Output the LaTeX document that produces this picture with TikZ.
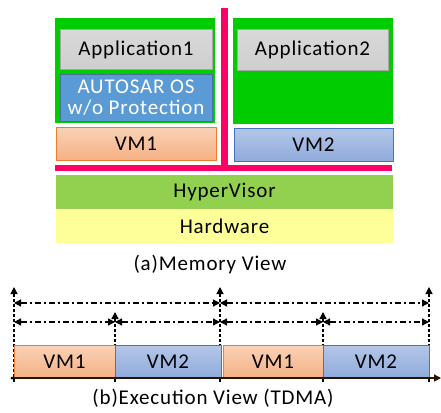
\documentclass[tikz,border=0pt]{standalone}
\usepackage{fontspec}
\setmainfont{Carlito}[LetterSpace=4]
\usetikzlibrary{arrows.meta}
\definecolor{vmgreen}{HTML}{00CC00}
\definecolor{pinkbar}{HTML}{FF0066}
\definecolor{hvgreen}{HTML}{92D050}
\definecolor{hwyellow}{HTML}{FFFF99}
\definecolor{osblue}{HTML}{5B9BD5}
\definecolor{osline}{HTML}{41719C}
\definecolor{orline}{HTML}{ED7D31}
\definecolor{bline}{HTML}{4472C4}
\begin{document}
\begin{tikzpicture}[x=1pt, y=-1pt,
		txt/.style = {font=\fontsize{21}{20}\selectfont, inner sep=0pt, align=center},
		box/.style = {txt, minimum width=#1},
		app/.style = {box=#1, draw=gray!70, line width=1pt, top color=gray!30, bottom color=gray!38, minimum height=40},
		vmone/.style = {box=#1, draw=orline, line width=1pt, top color=orange!10!orline!35, bottom color=orline!60, minimum height=33},
		vmtwo/.style = {box=#1, draw=bline, line width=1pt, top color=bline!40, bottom color=bline!60, minimum height=33},
		tick/.style = {-{Triangle[length=7pt,width=7pt]}, line width=1.3pt, dash pattern=on 3pt off 2pt},
		span/.style = {{Triangle[length=7pt,width=7pt]}-{Triangle[length=7pt,width=7pt]}, line width=1.3pt, dash pattern=on 6pt off 3pt on 2pt off 3pt}]
	
	\useasboundingbox (0,0) rectangle (441,412);
	
	% (a) memory view
	\node[fill=vmgreen, minimum width=160, minimum height=105, inner sep=0pt] (G1) at (135,70.5) {};
	\node[fill=vmgreen, minimum width=160, minimum height=106, inner sep=0pt] (G2) at (313,71) {};
	
	\fill[pinkbar] (221,8) rectangle (228,171);
	\fill[pinkbar] (55,165) rectangle (392,171);
	
	\node[app=152] (A1) at (136,49.5) {Application1};
	\node[app=151] (A2) at (312.5,50) {Application2};
	\node[box=152, fill=osblue, draw=osline, line width=1pt, minimum height=47, text=white] (OS) at (136,97.5) {AUTOSAR OS\\[1pt]w/o Protection};
	
	\node[vmone=160] (V1) at (136,144) {VM1};
	\node[vmtwo=159] (V2) at (313.5,145) {VM2};
	
	\node[box=337, fill=hvgreen, minimum height=34] (HV) at (224.5,192) {HyperVisor};
	\node[box=337, fill=hwyellow, minimum height=33] (HW) at (224.5,226.5) {Hardware};
	
	\node[txt] (capa) at (210,265) {(a)Memory View};
	
	% (b) execution view
	\coordinate (b0) at (14,382);  \coordinate (t0) at (14,287);
	\coordinate (b1) at (115,382); \coordinate (t1) at (115,312);
	\coordinate (b2) at (220,382); \coordinate (t2) at (220,287);
	\coordinate (b3) at (323,382); \coordinate (t3) at (323,312);
	\coordinate (b4) at (429,382); \coordinate (t4) at (429,287);
	
	\draw[tick] (b0) -- (t0);
	\draw[tick] (b1) -- (t1);
	\draw[tick] (b2) -- (t2);
	\draw[tick] (b3) -- (t3);
	\draw[tick] (b4) -- (t4);
	
	\node[vmone=101] (T1) at (64.5,361.5) {VM1};
	\node[vmtwo=106] (T2) at (168,361.5) {VM2};
	\node[vmone=100] (T3) at (273,361.5) {VM1};
	\node[vmtwo=106] (T4) at (376,361.5) {VM2};
	
	\coordinate (o) at (12,378);
	\coordinate (end) at (441,378);
	\draw[-{Triangle[length=7pt,width=7pt]}, line width=1.3pt, black!85!orange] (o) -- (end);
	\fill (o) circle (1.5);
	
	\coordinate (p0) at (14,303);  \coordinate (p2) at (220,303);  \coordinate (p4) at (429,303);
	\coordinate (q0) at (14,322);  \coordinate (q1) at (115,322);  \coordinate (q2) at (220,322);
	\coordinate (q3) at (323,322); \coordinate (q4) at (429,322);
	
	\draw[span] (p0) -- (p2);
	\draw[span] (p2) -- (p4);
	\draw[span] (q0) -- (q1);
	\draw[span] (q1) -- (q2);
	\draw[span] (q2) -- (q3);
	\draw[span] (q3) -- (q4);
	
	\node[txt] (capb) at (213,398) {(b)Execution View (TDMA)};
	
\end{tikzpicture}
\end{document}
